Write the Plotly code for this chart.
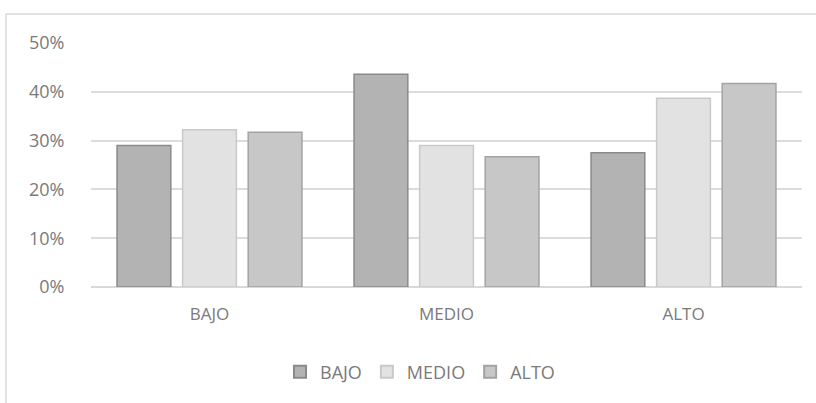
import plotly.graph_objects as go

categories = ["BAJO", "MEDIO", "ALTO"]
series_names = ["BAJO", "MEDIO", "ALTO"]
bajo_vals = [0.290, 0.436, 0.275]
medio_vals = [0.322, 0.290, 0.387]
alto_vals = [0.317, 0.267, 0.417]
y_ticks = [0, 0.1, 0.2, 0.3, 0.4, 0.5]
y_tick_labels = ["0%", "10%", "20%", "30%", "40%", "50%"]

fills = ["#b3b3b3", "#e2e2e2", "#c7c7c7"]
lines = ["#8a8a8a", "#c9c9c9", "#a3a3a3"]
values = [bajo_vals, medio_vals, alto_vals]

FONT = "Open Sans"
TXT = "#7a7a7a"

fig = go.Figure()
for name, vals, fc, lc in zip(series_names, values, fills, lines):
    fig.add_trace(go.Bar(
        x=categories, y=vals, name=name,
        marker=dict(color=fc, line=dict(color=lc, width=1.5)),
    ))

L, R, T, B = 91, 14, 43, 116
W, H = 816, 403
pw, ph = W - L - R, H - T - B

fig.update_layout(
    width=W, height=H,
    margin=dict(l=L, r=R, t=T, b=B, pad=0),
    paper_bgcolor="white", plot_bgcolor="white",
    barmode="group", bargap=0.17, bargroupgap=0.18,
    font=dict(family=FONT, size=18, color=TXT),
    showlegend=True,
    legend=dict(orientation="h", x=(420 - L) / pw, xanchor="center",
                y=(287 - 372) / ph, yanchor="middle",
                font=dict(family=FONT, size=18, color=TXT),
                itemsizing="constant", traceorder="normal"),
    xaxis=dict(showgrid=False, showline=False, zeroline=False,
               ticks="outside", ticklen=12, tickcolor="rgba(0,0,0,0)",
               tickfont=dict(family=FONT, size=17, color=TXT)),
    yaxis=dict(range=[0, 0.5], tickvals=y_ticks, ticktext=y_tick_labels,
               showgrid=True, gridcolor="#dcdcdc", gridwidth=1.5,
               zeroline=True, zerolinecolor="#d9d9d9", zerolinewidth=1.5,
               showline=False, ticks="outside", ticklen=22,
               tickcolor="rgba(0,0,0,0)",
               tickfont=dict(family=FONT, size=18, color=TXT)),
    shapes=[dict(type="rect", xref="paper", yref="paper",
                 x0=(6 - L) / pw, x1=(830 - L) / pw,
                 y0=(287 - 420) / ph, y1=(287 - 14) / ph,
                 line=dict(color="#d9d9d9", width=1.5),
                 fillcolor="rgba(0,0,0,0)", layer="below")],
)

fig.write_html("out.html")
